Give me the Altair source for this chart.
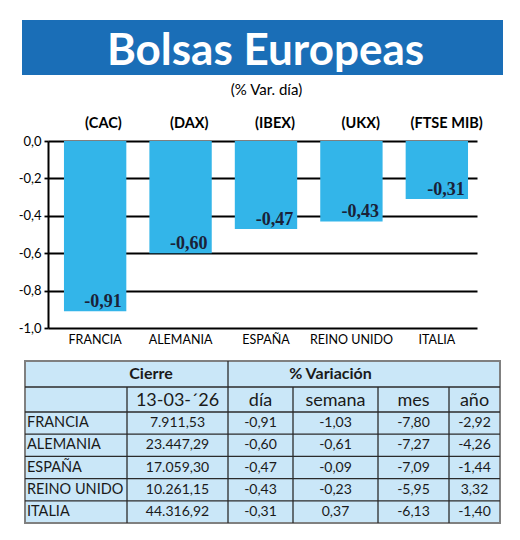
import altair as alt
import pandas as pd

# ---------------- data ----------------
paises = ["FRANCIA", "ALEMANIA", "ESPAÑA", "REINO UNIDO", "ITALIA"]
indices = ["(CAC)", "(DAX)", "(IBEX)", "(UKX)", "(FTSE MIB)"]
var_dia = [-0.91, -0.60, -0.47, -0.43, -0.31]
cierre = [7911.53, 23447.29, 17059.30, 10261.15, 44316.92]
var_semana = [-1.03, -0.61, -0.09, -0.23, 0.37]
var_mes = [-7.80, -7.27, -7.09, -5.95, -6.13]
var_anio = [-2.92, -4.26, -1.44, 3.32, -1.40]
fecha_cierre = "13-03-´26"
y_ticks = [0.0, -0.2, -0.4, -0.6, -0.8, -1.0]
titulo = "Bolsas Europeas"
subtitulo = "(% Var. día)"
cab_cierre = "Cierre"
cab_variacion = "% Variación"
cab_periodos = ["día", "semana", "mes", "año"]

# ---------------- style / layout ----------------
BANNER_BLUE = "#1a6eb7"
BAR_BLUE = "#33b5e9"
TABLE_BG = "#cae7f8"
LABEL_NAVY = "#1a2238"
TXT = "#1a1a1a"
SANS = "Lato"
SERIF = "Liberation Serif"

PLOT_W, PLOT_H = 429, 187
HEAD_W = 481          # banner width
BANNER_H = 55         # blue band height
HEAD_PANEL_H = 88     # banner + subtitle area
TITLE_BASE = 45       # baseline of title inside banner
SUB_Y = 70            # subtitle centre
COL_W = [102, 101, 65, 85, 71, 51]
HEAD_H = [26, 25]
ROW_H = 22.2
HEAD1_X = [126, 305.5]


def es(v):
    s = f"{v:,.2f}"
    return s.replace(",", "X").replace(".", ",").replace("X", ".")


# ---------------- banner panel ----------------
hx = alt.Scale(domain=[0, 1], nice=False, zero=False)
hy = alt.Scale(domain=[0, HEAD_PANEL_H], nice=False, zero=False, reverse=True)

band = alt.Chart(pd.DataFrame({"x": [0], "x2": [1], "y": [0], "y2": [BANNER_H]})).mark_rect(
    color=BANNER_BLUE).encode(
    x=alt.X("x:Q", scale=hx, axis=None), x2="x2:Q",
    y=alt.Y("y:Q", scale=hy, axis=None), y2="y2:Q")

title_t = alt.Chart(pd.DataFrame({"t": [titulo], "x": [0.5], "y": [TITLE_BASE]})).mark_text(
    font=SANS, fontSize=44, fontWeight="bold", color="white", baseline="alphabetic", dx=3).encode(
    x=alt.X("x:Q", scale=hx, axis=None), y=alt.Y("y:Q", scale=hy, axis=None), text="t:N")

sub_t = alt.Chart(pd.DataFrame({"t": [subtitulo], "x": [0.5], "y": [SUB_Y]})).mark_text(
    font=SANS, fontSize=15, color="black", baseline="middle", dx=4).encode(
    x=alt.X("x:Q", scale=hx, axis=None), y=alt.Y("y:Q", scale=hy, axis=None), text="t:N")

banner = alt.layer(band, title_t, sub_t).properties(width=HEAD_W, height=HEAD_PANEL_H)

# ---------------- bar chart ----------------
df = pd.DataFrame({
    "pais": paises,
    "indice": indices,
    "valor": var_dia,
    "etiqueta": [es(v) for v in var_dia],
})


def xscale():
    return alt.Scale(paddingInner=0.27, paddingOuter=0.146, align=0.64)


ylabel_expr = "replace(replace(format(datum.value, '.1f'), '.', ','), '\u2212', '-')"

bars = alt.Chart(df).mark_bar(color=BAR_BLUE).encode(
    x=alt.X("pais:N", sort=paises, scale=xscale(),
            axis=alt.Axis(orient="bottom", title=None, labelAngle=0, domain=False, ticks=False,
                          labelFont=SANS, labelFontSize=12.5, labelColor="black",
                          labelPadding=5)),
    y=alt.Y("valor:Q", scale=alt.Scale(domain=[-1, 0], nice=False),
            axis=alt.Axis(values=y_ticks, title=None, grid=True, gridColor="black", gridWidth=1.8,
                          domainColor="black", domainWidth=2, tickColor="black", tickWidth=1.8,
                          tickSize=4, labelFont=SANS, labelFontSize=13, labelColor="black",
                          labelPadding=3, labelExpr=ylabel_expr, labelOverlap=False,
                          minExtent=31, maxExtent=31)),
)

labels = alt.Chart(df).mark_text(font=SERIF, fontWeight="bold", fontSize=18, color=LABEL_NAVY,
                                 baseline="alphabetic", dy=-4).encode(
    x=alt.X("indice:N", sort=indices, scale=xscale(),
            axis=alt.Axis(orient="top", title=None, labelAngle=0, domain=False, ticks=False,
                          labelFont=SANS, labelFontWeight="bold", labelFontSize=14.5,
                          labelColor="black", labelPadding=11)),
    y=alt.Y("valor:Q", axis=None),
    text="etiqueta:N",
)

chart = (
    alt.layer(bars, labels)
    .resolve_scale(x="independent")
    .resolve_axis(y="independent")
    .properties(width=PLOT_W, height=PLOT_H)
)

# ---------------- table ----------------
edges = [0]
for w in COL_W:
    edges.append(edges[-1] + w)
TW = edges[-1]
row_edges = [0, HEAD_H[0], HEAD_H[0] + HEAD_H[1]]
for _ in paises:
    row_edges.append(row_edges[-1] + ROW_H)
TH = row_edges[-1]
centers = [(edges[i] + edges[i + 1]) / 2 for i in range(len(COL_W))]
row_c = [(row_edges[i] + row_edges[i + 1]) / 2 for i in range(len(row_edges) - 1)]

hl = pd.DataFrame({"x": 0, "x2": TW, "y": row_edges[1:-1], "y2": row_edges[1:-1]})
vl = pd.DataFrame({
    "x": edges[1:-1], "x2": edges[1:-1],
    "y": [row_edges[1], 0, row_edges[1], row_edges[1], row_edges[1]],
    "y2": TH,
})
rules_df = pd.concat([hl, vl], ignore_index=True)

xs = alt.Scale(domain=[0, TW], nice=False, zero=False)
ys = alt.Scale(domain=[0, TH], nice=False, zero=False, reverse=True)

t_rules = alt.Chart(rules_df).mark_rule(color="#2b2b2b", strokeWidth=1.3).encode(
    x=alt.X("x:Q", scale=xs, axis=None), x2="x2:Q",
    y=alt.Y("y:Q", scale=ys, axis=None), y2="y2:Q",
)

h1 = pd.DataFrame({"t": [cab_cierre, cab_variacion], "x": HEAD1_X, "y": row_c[0]})
t_h1 = alt.Chart(h1).mark_text(font=SANS, fontSize=16, fontWeight="bold", color=TXT,
                               baseline="middle").encode(
    x=alt.X("x:Q", scale=xs, axis=None), y=alt.Y("y:Q", scale=ys, axis=None), text="t:N")

h2 = pd.DataFrame({"t": [fecha_cierre] + cab_periodos, "x": centers[1:], "y": row_c[1]})
t_h2 = alt.Chart(h2).mark_text(font=SANS, fontSize=18, color=TXT,
                               baseline="middle", dy=1).encode(
    x=alt.X("x:Q", scale=xs, axis=None), y=alt.Y("y:Q", scale=ys, axis=None), text="t:N")

names = pd.DataFrame({"t": paises, "x": 2, "y": row_c[2:]})
t_names = alt.Chart(names).mark_text(font=SANS, fontSize=14.5, color=TXT, align="left",
                                     baseline="middle").encode(
    x=alt.X("x:Q", scale=xs, axis=None), y=alt.Y("y:Q", scale=ys, axis=None), text="t:N")

vals_rows = []
for i in range(len(paises)):
    for j, col in enumerate([cierre, var_dia, var_semana, var_mes, var_anio]):
        vals_rows.append({"t": es(col[i]), "x": centers[j + 1], "y": row_c[2 + i]})
vals = pd.DataFrame(vals_rows)
t_vals = alt.Chart(vals).mark_text(font=SANS, fontSize=14, color=TXT,
                                   baseline="middle").encode(
    x=alt.X("x:Q", scale=xs, axis=None), y=alt.Y("y:Q", scale=ys, axis=None), text="t:N")

table = alt.layer(t_rules, t_h1, t_h2, t_names, t_vals).properties(
    width=TW, height=TH,
    view=alt.ViewBackground(fill=TABLE_BG, stroke="#808080", strokeWidth=2),
)

final = (
    alt.vconcat(banner, chart, table, spacing=33, center=True, bounds="flush")
    .properties(padding={"left": 9, "top": 12, "right": 5, "bottom": 5})
    .configure_view(strokeWidth=0)
)

final.save("out.html", embed_options={"renderer": "svg", "actions": False})
